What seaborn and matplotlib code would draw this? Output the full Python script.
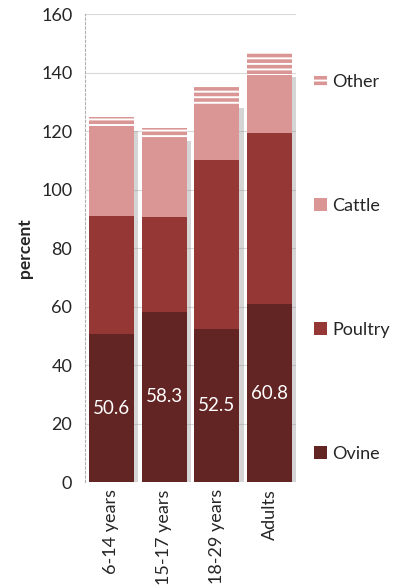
import matplotlib
matplotlib.use("Agg")
import matplotlib.pyplot as plt
import matplotlib.patheffects as pe
from matplotlib.patches import Patch
import numpy as np
import pandas as pd
import seaborn as sns

# valeurs
groups = ["6-14 years", "15-17 years", "18-29 years", "Adults"]
ovine = [50.6, 58.3, 52.5, 60.8]
poultry = [40.3, 32.2, 57.6, 58.6]
cattle = [30.1, 27.2, 18.8, 19.9]
other = [3.8, 3.3, 6.5, 7.7]

c_ovine = "#632523"
c_poultry = "#953735"
c_cattle = "#d99694"

sns.set_style("white")
plt.rcParams["font.family"] = ["Lato", "DejaVu Sans"]
plt.rcParams["hatch.linewidth"] = 1.4

fig, ax = plt.subplots(figsize=(4.04, 5.86), dpi=100)
fig.subplots_adjust(left=0.21, right=0.733, top=0.976, bottom=0.177)

df = pd.DataFrame({"group": groups, "Ovine": ovine, "Poultry": poultry,
                   "Cattle": cattle, "Other": other})
df["c_poultry"] = df["Ovine"] + df["Poultry"]
df["c_cattle"] = df["c_poultry"] + df["Cattle"]
df["c_other"] = df["c_cattle"] + df["Other"]

shadow = [pe.SimplePatchShadow(offset=(3, -2), shadow_rgbFace="#888888", alpha=0.35), pe.Normal()]

# empilement : du total vers le bas
sns.barplot(data=df, x="group", y="c_other", color=c_cattle, width=0.85,
            hatch="---", edgecolor="white", linewidth=0, saturation=1, ax=ax)
n0 = len(ax.patches)
sns.barplot(data=df, x="group", y="c_cattle", color=c_cattle, width=0.85,
            linewidth=0, saturation=1, ax=ax)
for p in ax.patches[n0:]:
    p.set_path_effects(shadow)
sns.barplot(data=df, x="group", y="c_poultry", color=c_poultry, width=0.85,
            linewidth=0, saturation=1, ax=ax)
sns.barplot(data=df, x="group", y="Ovine", color=c_ovine, width=0.85,
            linewidth=0, saturation=1, ax=ax)

# étiquettes des valeurs Ovine
for i, v in enumerate(ovine):
    ax.text(i, v / 2, f"{v}", ha="center", va="center", color="white", fontsize=13.5)

ax.set_ylim(0, 160)
ax.set_xlim(-0.5, 3.5)
ax.set_yticks(np.arange(0, 161, 20))
ax.yaxis.grid(True, color="#d9d9d9", linewidth=0.8)
ax.set_axisbelow(True)
for s in ["top", "right", "bottom"]:
    ax.spines[s].set_visible(False)
ax.spines["left"].set_color("#b0b0b0")
ax.spines["left"].set_linestyle((0, (2, 2)))
ax.spines["left"].set_linewidth(0.8)
ax.tick_params(axis="y", length=4, color="#b0b0b0", labelsize=13, pad=5)
ax.tick_params(axis="x", length=0, labelsize=13, pad=5)
plt.setp(ax.get_xticklabels(), rotation=90)
ax.set_xlabel("")
ax.set_ylabel("percent", fontsize=12.5, fontweight="bold", labelpad=6)

handles = [
    Patch(facecolor=c_cattle, edgecolor="white", hatch="---", linewidth=0, label="Other"),
    Patch(facecolor=c_cattle, linewidth=0, label="Cattle"),
    Patch(facecolor=c_poultry, linewidth=0, label="Poultry"),
    Patch(facecolor=c_ovine, linewidth=0, label="Ovine"),
]
ax.legend(handles=handles, loc="center left", bbox_to_anchor=(1.0, 0.458),
          frameon=False, fontsize=13, handlelength=0.7, handleheight=0.7,
          handletextpad=0.3, labelspacing=5.98, borderaxespad=0.6)

fig.savefig("out.png", dpi=100)
